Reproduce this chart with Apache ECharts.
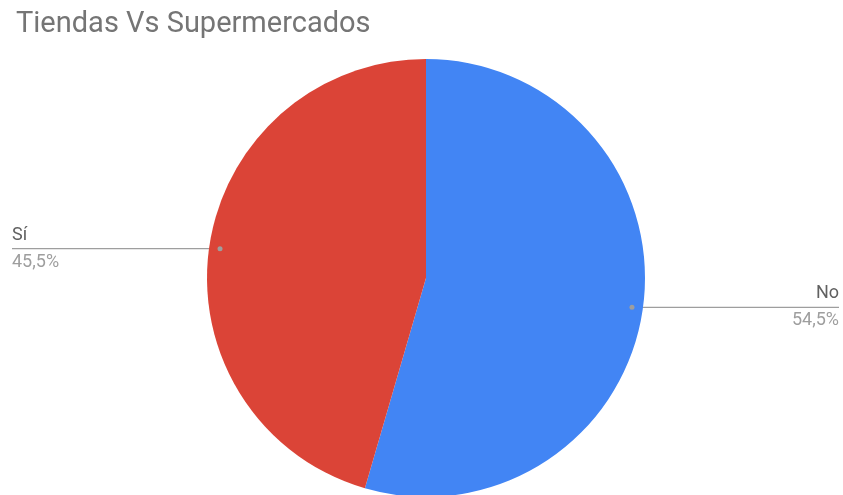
<!DOCTYPE html>
<html>
<head>
<meta charset="utf-8">
<script src="https://cdn.jsdelivr.net/npm/echarts@6/dist/echarts.min.js"></script>
<style>
  html, body { margin: 0; padding: 0; background: #fff; }
  #chart { width: 843px; height: 495px; }
</style>
</head>
<body>
<div id="chart"></div>
<script>
var chartTitle = "Tiendas Vs Supermercados";
var categories = ["No", "Sí"];
var values = [54.5, 45.5];
var colors = ["#4285f4", "#db4437"];

// layout
var CX = 426, CY = 278, R = 219;
var EDGE_L = 12, EDGE_R = 839;

// point on the mid angle of slice i, at k * radius (clockwise from top)
function midPoint(i, k) {
  var total = 0, before = 0;
  for (var j = 0; j < values.length; j++) {
    total += values[j];
    if (j < i) before += values[j];
  }
  var a = (before + values[i] / 2) / total * 2 * Math.PI;
  return [CX + Math.sin(a) * R * k, CY - Math.cos(a) * R * k];
}

var chart = echarts.init(document.getElementById("chart"));

var dots = values.map(function (v, i) {
  var p = midPoint(i, 0.95);
  return {
    type: "circle",
    shape: { cx: p[0], cy: p[1], r: 2.5 },
    style: { fill: "#9e9e9e" },
    z: 100
  };
});

var option = {
  title: {
    text: chartTitle,
    left: 11,
    top: 5,
    textStyle: {
      fontFamily: "Roboto",
      fontSize: 29,
      fontWeight: "normal",
      color: "#757575"
    }
  },
  graphic: dots,
  series: [
    {
      type: "pie",
      center: [CX, CY],
      radius: [0, R],
      startAngle: 90,
      clockwise: true,
      silent: true,
      data: categories.map(function (c, i) {
        return { name: c, value: values[i], itemStyle: { color: colors[i] } };
      }),
      label: {
        show: true,
        position: "outside",
        formatter: function (p) {
          return "{n|" + p.name + "}\n{p|" + values[p.dataIndex].toFixed(1).replace(".", ",") + "%}";
        },
        rich: {
          n: { fontFamily: "Roboto", fontSize: 18, color: "#616161", lineHeight: 27 },
          p: { fontFamily: "Roboto", fontSize: 18, color: "#9e9e9e", lineHeight: 27 }
        }
      },
      labelLine: {
        show: true,
        lineStyle: { color: "#9e9e9e", width: 1.3 }
      },
      labelLayout: function (params) {
        var p = midPoint(params.dataIndex, 0.95);
        var left = p[0] < CX;
        var endX = left ? EDGE_L : EDGE_R;
        return {
          x: endX,
          y: p[1],
          align: left ? "left" : "right",
          verticalAlign: "middle",
          labelLinePoints: [p, [endX, p[1]]]
        };
      }
    }
  ]
};

chart.setOption(option);
</script>
</body>
</html>
